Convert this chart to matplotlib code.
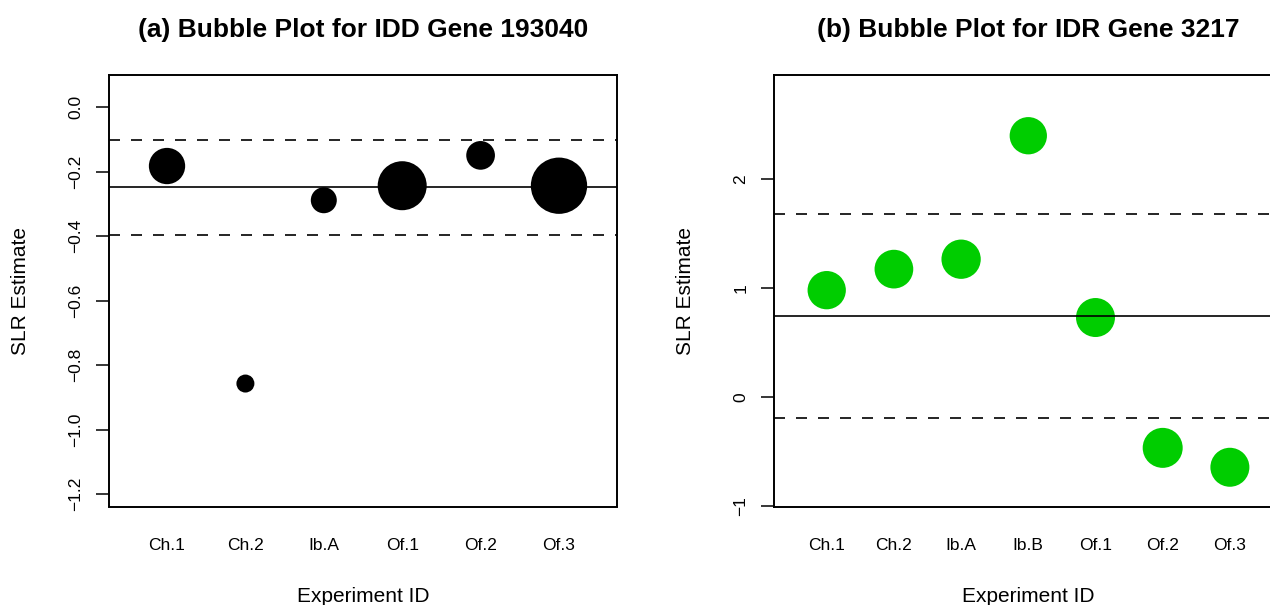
import numpy as np
import matplotlib
matplotlib.use("Agg")
import matplotlib.pyplot as plt

plt.rcParams['font.family'] = ['Liberation Sans', 'DejaVu Sans']
plt.rcParams['axes.unicode_minus'] = True

# (a) IDD gene 193040
exp_a = ["Ch.1", "Ch.2", "Ib.A", "Of.1", "Of.2", "Of.3"]
slr_a = [-0.183, -0.857, -0.289, -0.244, -0.150, -0.244]
weight_a = [0.363, 0.180, 0.260, 0.490, 0.287, 0.563]
pooled_a = -0.248
band_a = [-0.396, -0.101]
yticks_a = [-1.2, -1.0, -0.8, -0.6, -0.4, -0.2, 0.0]

# (b) IDR gene 3217
exp_b = ["Ch.1", "Ch.2", "Ib.A", "Ib.B", "Of.1", "Of.2", "Of.3"]
slr_b = [0.980, 1.173, 1.264, 2.397, 0.729, -0.467, -0.645]
weight_b = [0.383, 0.387, 0.393, 0.373, 0.390, 0.400, 0.390]
pooled_b = 0.745
band_b = [-0.190, 1.677]
yticks_b = [-1, 0, 1, 2]

W, H = 1270, 605
fig = plt.figure(figsize=(W / 100, H / 100), dpi=100)

def bubble_panel(left, labels, est, weight, pooled, band, yticks, ylim, col, title, fmt):
    ax = fig.add_axes([left / W, (H - 506.5) / H, 508 / W, 431.8 / H])
    n = len(labels)
    x = np.arange(1, n + 1)
    # bubble diameter in pixels -> marker area in points^2
    diam = np.array(weight) * 100 * 0.72
    ax.scatter(x, est, s=diam ** 2, c=col, edgecolors='none', zorder=2)
    ax.axhline(pooled, color='black', lw=1.2, zorder=3)
    for b in band:
        ax.axhline(b, color='black', lw=1.2, ls=(0, (6.6, 6.6)), zorder=3)
    pad = 0.04 * n
    ax.set_xlim(0.5 - pad, n + 0.5 + pad)
    ax.set_ylim(*ylim)
    ax.set_xticks(x)
    ax.set_xticklabels(labels, fontsize=12.5)
    ax.tick_params(axis='x', length=0, pad=23)
    ax.set_yticks(yticks)
    ax.set_yticklabels([fmt(v).replace('-', '\u2212') for v in yticks],
                       rotation=90, va='center', fontsize=12.5)
    ax.tick_params(axis='y', length=9.4, width=1.1, pad=9.3)
    for s in ax.spines.values():
        s.set_linewidth(1.4)
    ax.set_xlabel("Experiment ID", fontsize=15, labelpad=24)
    ax.set_ylabel("SLR Estimate", fontsize=15, va='center')
    ax.yaxis.set_label_coords(-0.174, 0.5)
    ax.set_title(title, fontsize=19, fontweight='bold', pad=27)
    return ax

bubble_panel(109, exp_a, slr_a, weight_a, pooled_a, band_a, yticks_a,
             (-1.238, 0.100), 'black',
             "(a) Bubble Plot for IDD Gene 193040", lambda v: f"{v:.1f}")
bubble_panel(774.3, exp_b, slr_b, weight_b, pooled_b, band_b, yticks_b,
             (-1.005, 2.957), '#00CD00',
             "(b) Bubble Plot for IDR Gene 3217", lambda v: f"{v:d}")

fig.savefig("out.png", dpi=100)
